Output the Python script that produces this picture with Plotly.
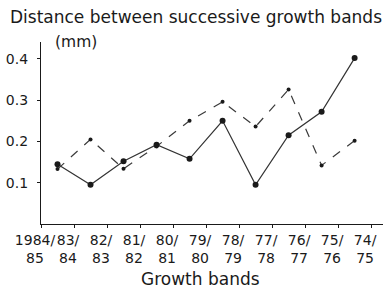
import plotly.graph_objects as go

band_pos = [0.5, 1.5, 2.5, 3.5, 4.5, 5.5, 6.5, 7.5, 8.5, 9.5]
solid_vals = [0.145, 0.095, 0.152, 0.192, 0.158, 0.25, 0.095, 0.215, 0.272, 0.402]
dashed_vals = [0.133, 0.205, 0.134, 0.188, 0.25, 0.296, 0.236, 0.326, 0.142, 0.202]
tick_pos = list(range(11))
tick_labels = ["1984/<br>85", "83/<br>84", "82/<br>83", "81/<br>82", "80/<br>81", "79/<br>80",
               "78/<br>79", "77/<br>78", "76/<br>77", "75/<br>76", "74/<br>75"]
y_ticks = [0.1, 0.2, 0.3, 0.4]
y_labels = ["0.1", "0.2", "0.3", "0.4"]

FONT = "DejaVu Sans"
INK = "#1a1a1a"

fig = go.Figure()
fig.add_trace(go.Scatter(x=band_pos, y=dashed_vals, mode="lines+markers",
                         line=dict(color="#3a3a3a", width=1.2, dash="dash"),
                         marker=dict(color=INK, size=4), showlegend=False))
fig.add_trace(go.Scatter(x=band_pos, y=solid_vals, mode="lines+markers",
                         line=dict(color="#333", width=1.2),
                         marker=dict(color=INK, size=6), showlegend=False))

L, R, T, B = 41, 3, 42, 69
fig.update_layout(
    width=386, height=293,
    margin=dict(l=L, r=R, t=T, b=B),
    paper_bgcolor="white", plot_bgcolor="white",
    font=dict(family=FONT, color=INK, size=14),
    xaxis=dict(range=[0, 10.36], tickvals=tick_pos, ticktext=tick_labels, tickangle=0,
               automargin=False, ticklabeloverflow="allow",
               showline=True, linecolor=INK, linewidth=1.2, showgrid=False, zeroline=False,
               ticks="outside", ticklen=3, tickcolor=INK, ticklabelshift=-6,
               tickfont=dict(size=14, family=FONT)),
    yaxis=dict(range=[0, 0.441], tickvals=y_ticks, ticktext=y_labels, automargin=False,
               showline=True, linecolor=INK, linewidth=1.2, showgrid=False, zeroline=False,
               ticks="outside", ticklen=3, tickcolor=INK, ticklabelstandoff=6,
               tickfont=dict(size=14, family=FONT)),
)

pw, ph = 386 - L - R, 293 - T - B
def ann(text, px, py, size, anchor):
    fig.add_annotation(text=text, x=(px - L) / pw, y=(293 - B - py) / ph, xref="paper", yref="paper",
                       xanchor=anchor, yanchor="middle", showarrow=False,
                       font=dict(size=size, family=FONT, color=INK))

ann("Distance between successive growth bands", 8, 17, 17, "left")
ann("(mm)", 53, 42, 15.5, "left")
ann("Growth bands", 200, 279, 17, "center")

fig.write_html("out.html", config={"displayModeBar": False},
               post_script="document.body.style.margin='0';")
